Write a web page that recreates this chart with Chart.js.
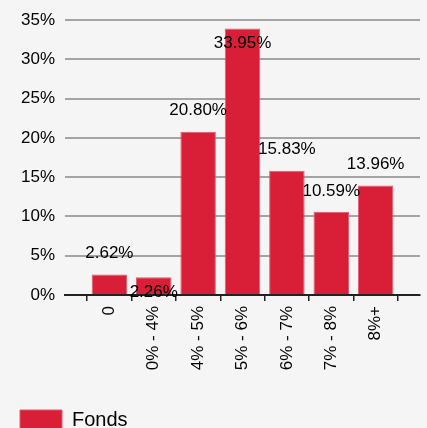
<!DOCTYPE html>
<html>
<head>
<meta charset="utf-8">
<script src="https://cdn.jsdelivr.net/npm/chart.js@4/dist/chart.umd.min.js"></script>
<style>
  html, body { margin: 0; padding: 0; background: #f5f5f5; overflow: hidden; }
  #wrap { position: relative; width: 427px; height: 443px; }
</style>
</head>
<body>
<div id="wrap"><canvas id="myChart"></canvas></div>
<script>
const categories = ['0', '0% - 4%', '4% - 5%', '5% - 6%', '6% - 7%', '7% - 8%', '8%+'];
const fonds = [2.62, 2.26, 20.80, 33.95, 15.83, 10.59, 13.96];
const yMin = 0, yMax = 35, yStep = 5;

// empty slot at each end so the axis runs past the first and last bar
const labels = [''].concat(categories, ['']);
const values = [null].concat(fonds, [null]);

const valueLabels = {
  id: 'valueLabels',
  afterDatasetsDraw(chart) {
    const ctx = chart.ctx;
    const meta = chart.getDatasetMeta(0);
    const area = chart.chartArea;
    ctx.save();
    ctx.font = '17px "Liberation Sans", Arial, sans-serif';
    ctx.fillStyle = '#000';
    ctx.textAlign = 'center';
    ctx.textBaseline = 'middle';
    const boxes = [];
    meta.data.forEach((bar, i) => {
      const v = values[i];
      if (v == null) return;
      const txt = v.toFixed(2) + '%';
      const w = ctx.measureText(txt).width;
      const h = 17;
      let y = bar.y - 21;
      const hit = b => Math.abs(b.x - bar.x) < (b.w + w) / 2 && Math.abs(b.y - y) < h;
      if (y - h / 2 < area.top || boxes.some(hit)) y = bar.y + 15;
      boxes.push({x: bar.x, y: y, w: w});
      ctx.fillText(txt, bar.x, y);
    });
    ctx.restore();
  }
};

const ctx = document.getElementById('myChart');
new Chart(ctx, {
  type: 'bar',
  data: {
    labels: labels,
    datasets: [{
      label: 'Fonds',
      data: values,
      backgroundColor: '#d81f37',
      borderColor: '#e05a6e',
      borderWidth: 1,
      categoryPercentage: 1,
      barPercentage: 0.8
    }]
  },
  options: {
    responsive: true,
    maintainAspectRatio: false,
    animation: false,
    layout: { padding: { left: 10, right: 7, top: 20, bottom: 3 } },
    plugins: {
      tooltip: { enabled: false },
      legend: {
        position: 'bottom',
        align: 'start',
        labels: {
          boxWidth: 42,
          boxHeight: 20,
          padding: 10,
          color: '#000',
          font: { family: '"Liberation Sans", Arial, sans-serif', size: 20 }
        }
      }
    },
    scales: {
      x: {
        offset: false,
        grid: { drawOnChartArea: false, drawTicks: true, tickLength: 6, color: '#222', lineWidth: 1.5 },
        border: { color: '#222', width: 2 },
        ticks: {
          autoSkip: false,
          maxRotation: 90,
          minRotation: 90,
          padding: 5,
          color: '#000',
          font: { family: '"Liberation Sans", Arial, sans-serif', size: 17 }
        },
        afterFit(scale) {
          scale.height = 105;
          scale.paddingLeft = 0;
          scale.paddingRight = 0;
        }
      },
      y: {
        min: yMin,
        max: yMax,
        grid: { color: '#a4a4a4', lineWidth: 2, drawTicks: false },
        border: { display: false },
        ticks: {
          stepSize: yStep,
          padding: 10,
          color: '#000',
          font: { family: '"Liberation Sans", Arial, sans-serif', size: 17 },
          callback: v => v + '%'
        },
        afterFit(scale) { scale.width = 55; }
      }
    }
  },
  plugins: [valueLabels]
});
</script>
</body>
</html>
